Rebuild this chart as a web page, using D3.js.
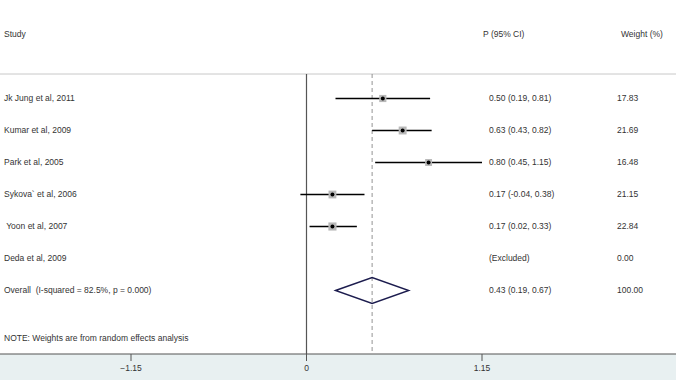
<!DOCTYPE html>
<html>
<head>
<meta charset="utf-8">
<script src="https://cdn.jsdelivr.net/npm/d3@7"></script>
<style>
  body { margin: 0; background: #fff; }
  svg { display: block; }
</style>
</head>
<body>
<svg id="svg" width="676" height="380"></svg>
<script>
const studies = ['Jk Jung et al, 2011', 'Kumar et al, 2009', 'Park et al, 2005', 'Sykova` et al, 2006', ' Yoon et al, 2007', 'Deda et al, 2009']
const estimates = [0.50, 0.63, 0.80, 0.17, 0.17, null]
const lower = [0.19, 0.43, 0.45, -0.04, 0.02, null]
const upper = [0.81, 0.82, 1.15, 0.38, 0.33, null]
const ciLabels = ['0.50 (0.19, 0.81)', '0.63 (0.43, 0.82)', '0.80 (0.45, 1.15)', '0.17 (-0.04, 0.38)', '0.17 (0.02, 0.33)', '(Excluded)']
const weights = ['17.83', '21.69', '16.48', '21.15', '22.84', '0.00']
const overall = { label: 'Overall  (I-squared = 82.5%, p = 0.000)', est: 0.43, lo: 0.19, hi: 0.67, ci: '0.43 (0.19, 0.67)', weight: '100.00' }
const ticks = [-1.15, 0, 1.15]
const note = 'NOTE: Weights are from random effects analysis'

const width = 676
const height = 380
const svg = d3.select('#svg')
const font = '"Liberation Sans", Arial, sans-serif'
const fontSize = '8.5px'
const textColour = '#333'

const x = d3.scaleLinear().domain([0, 1.15]).range([306.5, 482])
const y = d3.scaleLinear().domain([0, 6]).range([98.5, 290.5])

const plotTop = 74
const axisY = 354

// axis panel background
svg.append('rect')
  .attr('x', 0).attr('y', axisY).attr('width', width).attr('height', height - axisY)
  .attr('fill', '#e8f0f1')

// header separator
svg.append('line')
  .attr('x1', 0).attr('x2', width).attr('y1', plotTop).attr('y2', plotTop)
  .attr('stroke', '#c8c8c8').attr('stroke-width', 1)

// headers
const header = [['Study', 4], ['P (95% CI)', 483], ['Weight (%)', 621]]
svg.selectAll('.hdr')
  .data(header)
  .join('text')
  .attr('x', d => d[1]).attr('y', 35)
  .attr('dominant-baseline', 'middle')
  .style('font-family', font).style('font-size', fontSize).style('fill', textColour)
  .text(d => d[0])

// null line
svg.append('line')
  .attr('x1', x(0)).attr('x2', x(0)).attr('y1', plotTop).attr('y2', axisY)
  .attr('stroke', '#555').attr('stroke-width', 1.2)

// overall dashed line
svg.append('line')
  .attr('x1', x(overall.est)).attr('x2', x(overall.est)).attr('y1', plotTop).attr('y2', axisY)
  .attr('stroke', '#888').attr('stroke-width', 0.9).attr('stroke-dasharray', '4,3')

// axis
svg.append('line')
  .attr('x1', 0).attr('x2', width).attr('y1', axisY).attr('y2', axisY)
  .attr('stroke', '#555').attr('stroke-width', 1.2)

svg.selectAll('.tick')
  .data(ticks)
  .join('line')
  .attr('x1', d => x(d)).attr('x2', d => x(d))
  .attr('y1', axisY).attr('y2', axisY + 7)
  .attr('stroke', '#555').attr('stroke-width', 1)

svg.selectAll('.ticklabel')
  .data(ticks)
  .join('text')
  .attr('x', d => x(d)).attr('y', 369)
  .attr('text-anchor', 'middle').attr('dominant-baseline', 'middle')
  .style('font-family', font).style('font-size', fontSize).style('fill', textColour)
  .text(d => d === 0 ? '0' : d3.format('.2f')(d))

// study rows
const studyData = studies.map((s, i) => ({ label: s, est: estimates[i], lo: lower[i], hi: upper[i], ci: ciLabels[i], w: weights[i], i }))

const g = svg.selectAll('.row')
  .data(studyData)
  .join('g')
  .attr('transform', d => `translate(0, ${y(d.i)})`)

const shown = g.filter(d => d.est !== null)

shown.append('line')
  .attr('x1', d => x(d.lo)).attr('x2', d => x(d.hi))
  .attr('stroke', '#000').attr('stroke-width', 1.3)

shown.append('rect')
  .attr('x', d => x(d.est) - Math.sqrt(+d.w) * 0.85)
  .attr('y', d => -Math.sqrt(+d.w) * 0.85)
  .attr('width', d => Math.sqrt(+d.w) * 1.7)
  .attr('height', d => Math.sqrt(+d.w) * 1.7)
  .attr('fill', '#b8b8b8')

shown.append('circle')
  .attr('cx', d => x(d.est)).attr('r', 2)
  .attr('fill', '#000')

g.append('text')
  .attr('x', 4).attr('dominant-baseline', 'middle')
  .style('font-family', font).style('font-size', fontSize).style('fill', textColour)
  .style('white-space', 'pre')
  .text(d => d.label)

g.append('text')
  .attr('x', 489).attr('dominant-baseline', 'middle')
  .style('font-family', font).style('font-size', fontSize).style('fill', textColour)
  .text(d => d.ci)

g.append('text')
  .attr('x', 617).attr('dominant-baseline', 'middle')
  .style('font-family', font).style('font-size', fontSize).style('fill', textColour)
  .text(d => d.w)

// overall row
const oy = y(6)
svg.append('path')
  .attr('d', `M${x(overall.lo)},${oy} L${x(overall.est)},${oy - 13} L${x(overall.hi)},${oy} L${x(overall.est)},${oy + 13} Z`)
  .attr('fill', 'none').attr('stroke', '#1c1c4e').attr('stroke-width', 1.4)

const overallText = [[overall.label, 4], [overall.ci, 489], [overall.weight, 617]]
svg.selectAll('.ov')
  .data(overallText)
  .join('text')
  .attr('x', d => d[1]).attr('y', oy)
  .attr('dominant-baseline', 'middle')
  .style('font-family', font).style('font-size', fontSize).style('fill', textColour)
  .style('white-space', 'pre')
  .text(d => d[0])

svg.append('text')
  .attr('x', 4).attr('y', 338.5)
  .attr('dominant-baseline', 'middle')
  .style('font-family', font).style('font-size', fontSize).style('fill', textColour)
  .text(note)
</script>
</body>
</html>
